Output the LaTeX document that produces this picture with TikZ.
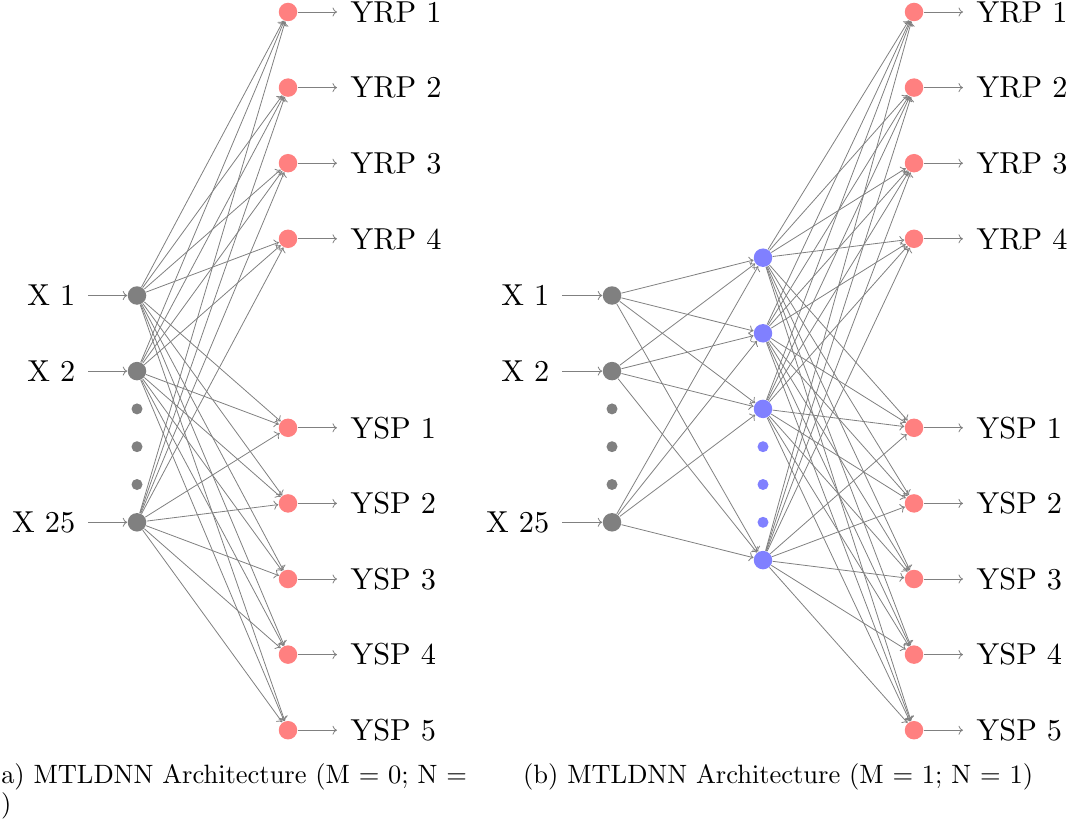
\documentclass[tikz,border=0pt]{standalone}
\usetikzlibrary{arrows.meta}
\font\labfont=cmr10 at 30.3pt
\font\capfont=cmr10 at 26.5pt
\begin{document}
\begin{tikzpicture}[x=1pt,y=-1pt,
  neuron/.style={circle, fill=#1, draw=none, minimum size=18.5pt, inner sep=0pt, outer sep=0.5pt},
  smalldot/.style={circle, fill=#1, draw=none, minimum size=11pt, inner sep=0pt},
  conn/.style={draw=gray, line width=0.8pt, -{To[length=4.5pt,width=9pt]}},
  inlab/.style={anchor=east, inner sep=0pt, inner xsep=12.5pt, font=\labfont},
  outlab/.style={anchor=west, inner sep=0pt, inner xsep=13.5pt, font=\labfont},
  captext/.style={anchor=base west, inner sep=0pt, font=\capfont}
]
\useasboundingbox (0,0) rectangle (1079,829);
\def\U{75.6}
% ---------------- left panel ----------------
\node[neuron=gray] (Lx1)  at (137,{12+3.75*\U}) {};
\node[neuron=gray] (Lx2)  at (137,{12+4.75*\U}) {};
\node[neuron=gray] (Lx25) at (137,{12+6.75*\U}) {};
\node[smalldot=gray] (Ld1) at (137,{12+5.25*\U}) {};
\node[smalldot=gray] (Ld2) at (137,{12+5.75*\U}) {};
\node[smalldot=gray] (Ld3) at (137,{12+6.25*\U}) {};
\foreach \k in {1,...,4}{
  \node[neuron=red!50] (Lr\k) at (288,{12+(\k-1)*\U}) {};
  \node[outlab] (Lr\k l) at (337,{12+(\k-1)*\U}) {YRP \k};
  \draw[conn] (Lr\k) -- (Lr\k l.west);
}
\foreach \k in {1,...,5}{
  \node[neuron=red!50] (Ls\k) at (288,{12+(4.5+\k)*\U}) {};
  \node[outlab] (Ls\k l) at (337,{12+(4.5+\k)*\U}) {YSP \k};
  \draw[conn] (Ls\k) -- (Ls\k l.west);
}
\node[inlab] (Lx1lab)  at (88,{12+3.75*\U}) {X 1};
\node[inlab] (Lx2lab)  at (88,{12+4.75*\U}) {X 2};
\node[inlab] (Lx25lab) at (88,{12+6.75*\U}) {X 25};
\foreach \i in {1,2,25}{
  \draw[conn] (Lx\i lab.east) -- (Lx\i);
  \foreach \t in {r1,r2,r3,r4,s1,s2,s3,s4,s5}{
    \draw[conn] (Lx\i) -- (L\t);
  }
}
% ---------------- right panel ----------------
\node[neuron=gray] (Rx1)  at (612,{12+3.75*\U}) {};
\node[neuron=gray] (Rx2)  at (612,{12+4.75*\U}) {};
\node[neuron=gray] (Rx25) at (612,{12+6.75*\U}) {};
\node[smalldot=gray] (Rd1) at (612,{12+5.25*\U}) {};
\node[smalldot=gray] (Rd2) at (612,{12+5.75*\U}) {};
\node[smalldot=gray] (Rd3) at (612,{12+6.25*\U}) {};
\node[inlab] (Rx1lab)  at (562,{12+3.75*\U}) {X 1};
\node[inlab] (Rx2lab)  at (562,{12+4.75*\U}) {X 2};
\node[inlab] (Rx25lab) at (562,{12+6.75*\U}) {X 25};
\node[neuron=blue!50] (Rh1) at (763,{12+3.25*\U}) {};
\node[neuron=blue!50] (Rh2) at (763,{12+4.25*\U}) {};
\node[neuron=blue!50] (Rh3) at (763,{12+5.25*\U}) {};
\node[neuron=blue!50] (Rh4) at (763,{12+7.25*\U}) {};
\node[smalldot=blue!50] (Re1) at (763,{12+5.75*\U}) {};
\node[smalldot=blue!50] (Re2) at (763,{12+6.25*\U}) {};
\node[smalldot=blue!50] (Re3) at (763,{12+6.75*\U}) {};
\foreach \k in {1,...,4}{
  \node[neuron=red!50] (Rr\k) at (914,{12+(\k-1)*\U}) {};
  \node[outlab] (Rr\k l) at (963,{12+(\k-1)*\U}) {YRP \k};
  \draw[conn] (Rr\k) -- (Rr\k l.west);
}
\foreach \k in {1,...,5}{
  \node[neuron=red!50] (Rs\k) at (914,{12+(4.5+\k)*\U}) {};
  \node[outlab] (Rs\k l) at (963,{12+(4.5+\k)*\U}) {YSP \k};
  \draw[conn] (Rs\k) -- (Rs\k l.west);
}
\foreach \i in {1,2,25}{
  \draw[conn] (Rx\i lab.east) -- (Rx\i);
  \foreach \h in {1,...,4}{
    \draw[conn] (Rx\i) -- (Rh\h);
  }
}
\foreach \h in {1,...,4}{
  \foreach \t in {r1,r2,r3,r4,s1,s2,s3,s4,s5}{
    \draw[conn] (Rh\h) -- (R\t);
  }
}
% ---------------- captions ----------------
\node[captext] (capa1) at (1,783) {a) MTLDNN Architecture (M = 0; N =};
\node[captext] (capa2) at (1,812) {)};
\node[captext] (capb) at (523,783) {(b) MTLDNN Architecture (M = 1; N = 1)};
\end{tikzpicture}
\end{document}
